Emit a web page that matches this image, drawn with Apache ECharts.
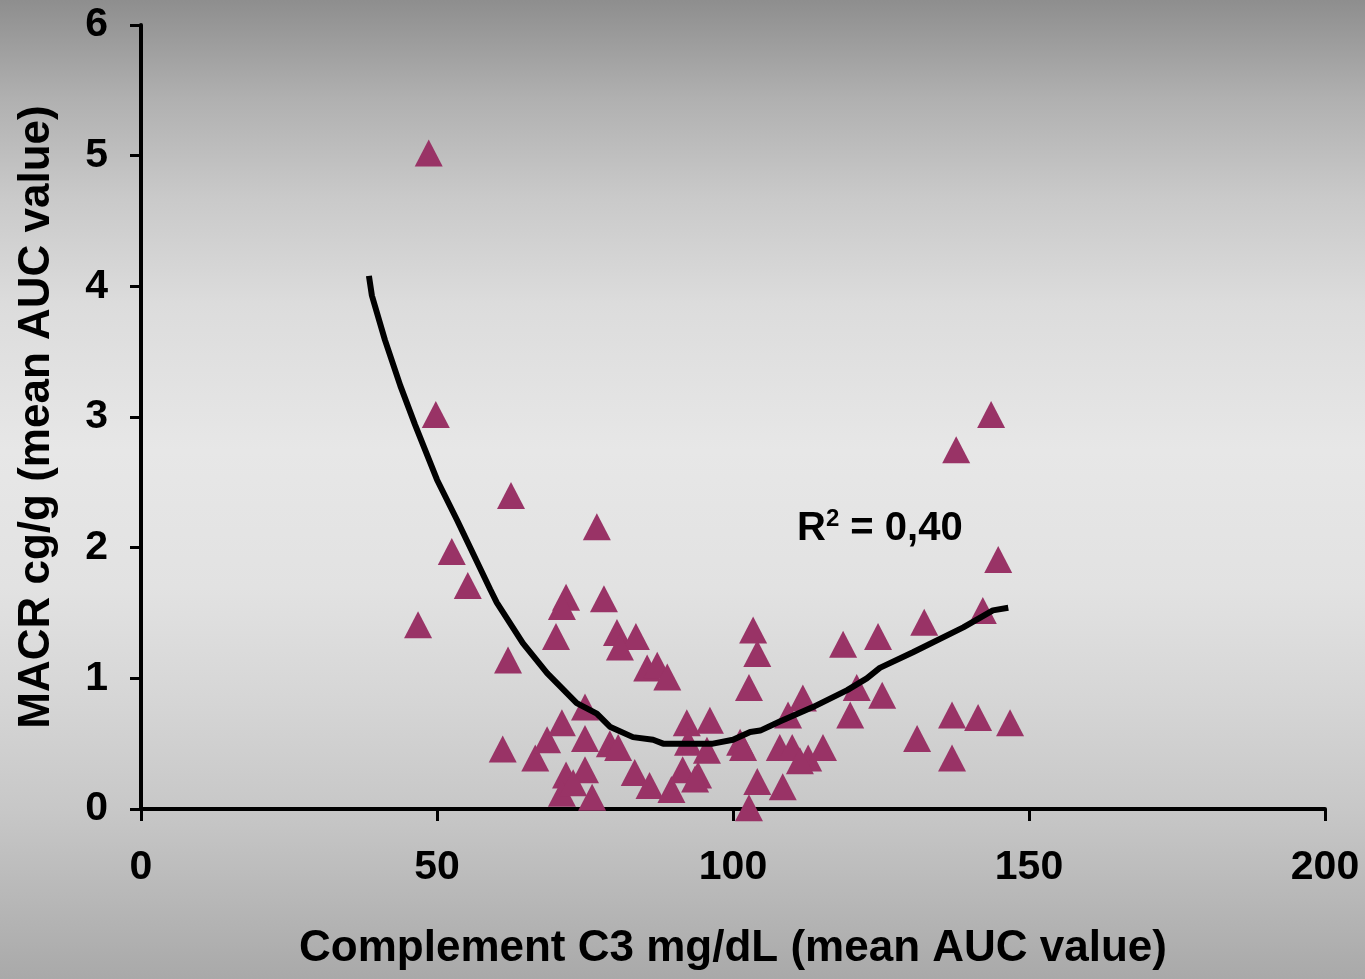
<!DOCTYPE html>
<html>
<head>
<meta charset="utf-8">
<script src="https://cdn.jsdelivr.net/npm/echarts@6/dist/echarts.min.js"></script>
<style>
html,body{margin:0;padding:0;}
#chart{width:1365px;height:979px;background:linear-gradient(to bottom,#8e8e8e 0%,#b0b0b0 10%,#c9c9c9 20%,#dcdcdc 31%,#e7e7e7 46%,#e2e2e2 60%,#d5d5d5 72%,#c7c7c7 83%,#a9a9a9 100%);}
</style>
</head>
<body>
<div id="chart"></div>
<script>
// C3 (mg/dL) values
const c3Values = [48.6,49.8,46.8,52.5,55.2,62.5,62.0,61.1,77.0,78.2,70.1,71.8,71.1,80.4,83.6,80.9,85.5,87.2,88.9,66.6,68.6,71.1,75.0,75.0,71.8,71.1,75.0,76.2,73.0,79.2,80.6,83.4,85.9,89.6,92.2,96.1,92.4,95.6,91.5,94.1,93.6,101.2,101.7,103.4,104.1,102.7,104.1,102.7,108.4,109.3,111.8,107.9,110.0,112.7,111.3,115.2,118.6,120.9,119.8,124.5,125.2,132.3,131.1,137.0,137.0,141.4,146.8,142.2,143.6,137.7,144.8];
// MACR (cg/g) values
const macrValues = [5.02,3.02,1.41,1.97,1.71,2.40,1.14,0.46,2.16,1.61,1.32,1.62,1.55,1.35,1.32,1.24,1.08,1.10,1.01,0.39,0.53,0.66,0.78,0.54,0.26,0.12,0.30,0.09,0.20,0.50,0.47,0.28,0.18,0.15,0.66,0.68,0.51,0.45,0.30,0.26,0.23,0.51,0.47,1.37,1.19,0.93,0.21,0.01,0.17,0.72,0.85,0.47,0.47,0.39,0.37,0.47,1.26,0.93,0.72,1.32,0.87,1.43,0.54,0.72,0.39,0.70,0.66,1.52,3.02,2.75,1.91];
// Trend line (fitted values)
const trendX = [38.5,39.0,41.2,43.8,46.3,50.0,53.4,59.0,60.1,64.5,68.6,73.6,77.0,79.2,83.1,86.5,88.2,92.7,96.6,100.0,102.9,104.6,107.9,113.5,119.3,122.6,124.8,130.4,138.9,143.9,146.5];
const trendY = [4.08,3.93,3.59,3.24,2.94,2.52,2.21,1.68,1.58,1.27,1.04,0.81,0.73,0.63,0.55,0.53,0.50,0.50,0.50,0.53,0.59,0.60,0.67,0.78,0.91,1.00,1.08,1.20,1.39,1.52,1.54];
const xTicks = [0,50,100,150,200];
const yTicks = [0,1,2,3,4,5,6];
const xTitle = 'Complement C3 mg/dL (mean AUC value)';
const yTitle = 'MACR cg/g (mean AUC value)';
const r2Label = '0,40';

const FONT = '"Liberation Sans", Arial, sans-serif';
const chart = echarts.init(document.getElementById('chart'));
chart.setOption({
  backgroundColor: 'transparent',
  animation: false,
  grid: {left: 141, right: 40, top: 25, bottom: 170, containLabel: false},
  xAxis: {
    type: 'value', min: xTicks[0], max: xTicks[xTicks.length-1], interval: 50,
    name: xTitle, nameLocation: 'middle', nameGap: 118,
    nameTextStyle: {fontFamily: FONT, fontWeight: 'bold', fontSize: 44, color: '#000'},
    axisLine: {show: true, onZero: false, lineStyle: {color: '#000', width: 4}},
    axisTick: {show: true, length: 12, lineStyle: {color: '#000', width: 3}},
    axisLabel: {margin: 38, fontFamily: FONT, fontWeight: 'bold', fontSize: 41, color: '#000'},
    splitLine: {show: false}
  },
  yAxis: {
    type: 'value', min: yTicks[0], max: yTicks[yTicks.length-1], interval: 1,
    name: yTitle, nameLocation: 'middle', nameGap: 82, nameRotate: 90,
    nameTextStyle: {fontFamily: FONT, fontWeight: 'bold', fontSize: 44, color: '#000'},
    axisLine: {show: true, onZero: false, lineStyle: {color: '#000', width: 4}},
    axisTick: {show: true, length: 11, lineStyle: {color: '#000', width: 3}},
    axisLabel: {margin: 33, fontFamily: FONT, fontWeight: 'bold', fontSize: 41, color: '#000'},
    splitLine: {show: false}
  },
  graphic: [{
    type: 'text', left: 797, top: 503, z: 10,
    style: {
      text: '{r|R}{s|2}{r| = ' + r2Label + '}',
      rich: {
        r: {fontFamily: FONT, fontWeight: 'bold', fontSize: 40, fill: '#000', verticalAlign: 'bottom', lineHeight: 46},
        s: {fontFamily: FONT, fontWeight: 'bold', fontSize: 24, fill: '#000', verticalAlign: 'top', lineHeight: 46, padding: [4,0,0,0]}
      }
    }
  }],
  series: [
    {
      type: 'scatter',
      data: c3Values.map((v, i) => [v, macrValues[i]]),
      symbol: 'triangle', symbolSize: [28, 27],
      itemStyle: {color: '#993366', opacity: 1},
      z: 2
    },
    {
      type: 'line',
      data: trendX.map((v, i) => [v, trendY[i]]),
      showSymbol: false, symbol: 'none',
      lineStyle: {color: '#000', width: 6},
      z: 3
    }
  ]
});
</script>
</body>
</html>
